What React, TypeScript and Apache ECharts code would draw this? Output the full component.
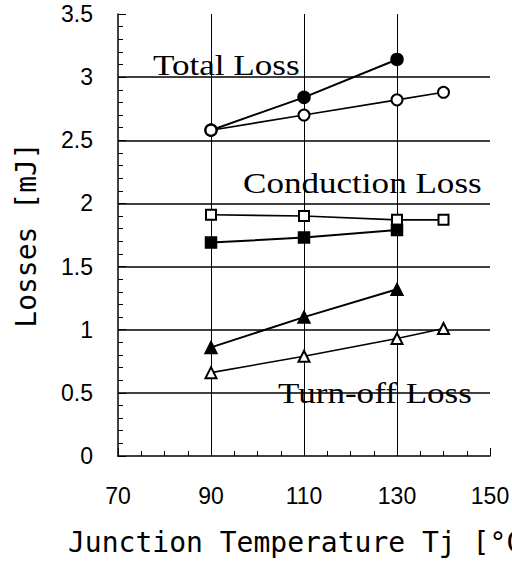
import React, { useEffect, useRef } from "react";
import * as echarts from "echarts";

const tempsMeasured = [90, 110, 130];
const tempsExtended = [90, 110, 130, 140];

const totalLossFilled = [2.58, 2.84, 3.14];
const totalLossOpen = [2.58, 2.7, 2.82, 2.88];
const conductionOpen = [1.91, 1.9, 1.87, 1.87];
const conductionFilled = [1.69, 1.73, 1.79];
const turnOffFilled = [0.86, 1.1, 1.32];
const turnOffOpen = [0.66, 0.79, 0.93, 1.01];

const annotations = [
  { text: "Total Loss", x: 153, y: 65 },
  { text: "Conduction Loss", x: 243, y: 183 },
  { text: "Turn-off Loss", x: 278, y: 393 },
];

const pair = (xs: number[], ys: number[]) => ys.map((y, i) => [xs[i], y]);

export default function App() {
  const ref = useRef<HTMLDivElement>(null);
  useEffect(() => {
    document.body.style.margin = "0";
    const chart = echarts.init(ref.current!, null, { renderer: "svg" });
    const lineSeries = (
      name: string,
      xs: number[],
      ys: number[],
      symbol: string,
      size: number,
      lw: number
    ) => ({
      name,
      type: "line",
      data: pair(xs, ys),
      symbol,
      symbolSize: size,
      showSymbol: true,
      lineStyle: { color: "#000", width: lw },
      itemStyle: { color: "#000", borderColor: "#000", borderWidth: 1.5 },
      z: 5,
    });
    chart.setOption({
      animation: false,
      backgroundColor: "#fff",
      grid: {
        left: 118,
        right: 22,
        top: 14,
        bottom: 108,
        containLabel: false,
        outerBoundsMode: "none",
      },
      xAxis: {
        type: "value",
        min: 70,
        max: 150,
        interval: 20,
        name: "Junction Temperature Tj [°C]",
        nameLocation: "middle",
        nameGap: 72,
        nameTextStyle: { fontFamily: "DejaVu Sans Mono", fontSize: 28, color: "#000" },
        axisLine: { show: true, lineStyle: { color: "#000", width: 1.5 } },
        axisTick: { show: true, inside: true, length: 8, lineStyle: { color: "#000" } },
        minorTick: { show: true, splitNumber: 4, length: 5, lineStyle: { color: "#000" } },
        axisLabel: { fontFamily: "Liberation Sans", fontSize: 23, color: "#000", margin: 28 },
        splitLine: {
          show: true,
          showMinLine: false,
          showMaxLine: false,
          lineStyle: { color: "#000", width: 1 },
        },
      },
      yAxis: {
        type: "value",
        min: 0,
        max: 3.5,
        interval: 0.5,
        name: "Losses [mJ]",
        nameLocation: "middle",
        nameGap: 78,
        nameTextStyle: { fontFamily: "DejaVu Sans Mono", fontSize: 28, color: "#000" },
        axisLine: { show: true, lineStyle: { color: "#000", width: 1.5 } },
        axisTick: { show: true, inside: true, length: 8, lineStyle: { color: "#000" } },
        minorTick: { show: true, splitNumber: 5, length: 5, lineStyle: { color: "#000" } },
        axisLabel: {
          fontFamily: "Liberation Sans",
          fontSize: 23,
          color: "#000",
          margin: 25,
          formatter: (v: number) => String(v),
        },
        splitLine: {
          show: true,
          showMinLine: false,
          showMaxLine: false,
          lineStyle: { color: "#000", width: 1.5 },
        },
      },
      graphic: annotations.map((a) => ({
        type: "text",
        x: a.x,
        y: a.y,
        scaleX: 1.17,
        z: 10,
        style: {
          text: a.text,
          x: 0,
          y: 0,
          font: '30px "Liberation Serif"',
          fill: "#000",
          align: "left",
          verticalAlign: "middle",
        },
      })),
      series: [
        lineSeries("Total Loss (filled)", tempsMeasured, totalLossFilled, "circle", 12, 2),
        lineSeries("Total Loss (open)", tempsExtended, totalLossOpen, "emptyCircle", 11, 1.6),
        lineSeries("Conduction Loss (open)", tempsExtended, conductionOpen, "emptyRect", 10, 1.6),
        lineSeries("Conduction Loss (filled)", tempsMeasured, conductionFilled, "rect", 11, 2),
        lineSeries("Turn-off Loss (filled)", tempsMeasured, turnOffFilled, "triangle", 12, 2),
        lineSeries("Turn-off Loss (open)", tempsExtended, turnOffOpen, "emptyTriangle", 11, 1.6),
      ],
    });
    return () => chart.dispose();
  }, []);
  return <div ref={ref} style={{ width: 512, height: 564 }} />;
}
